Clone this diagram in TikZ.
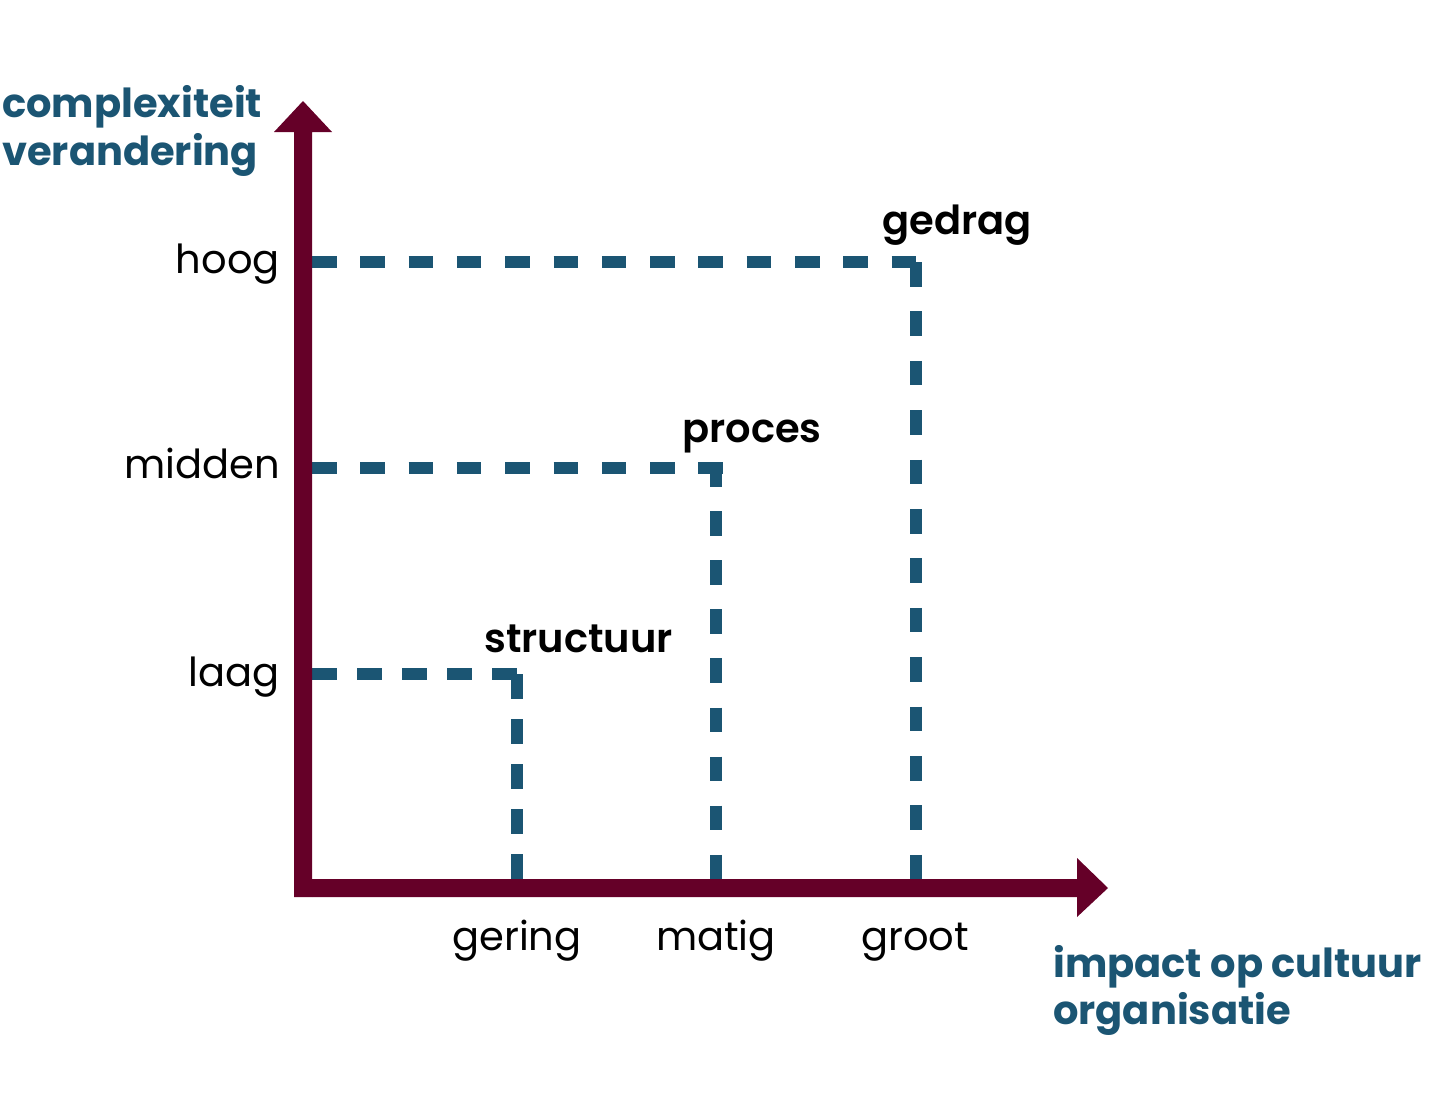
\documentclass[tikz,border=0pt]{standalone}
\usepackage{fontspec}
\setmainfont{Poppins}
\IfFontExistsTF{Poppins SemiBold}
  {\newfontfamily\catfont{Poppins SemiBold}}
  {\newcommand\catfont{\bfseries}}
\definecolor{axiscol}{HTML}{650028}
\definecolor{dashcol}{HTML}{1B5573}
\begin{document}
\begin{tikzpicture}[x=1pt,y=-1pt,
  lbl/.style={inner sep=0pt,font=\fontsize{40}{48}\selectfont,text=black},
  cat/.style={inner sep=0pt,font=\fontsize{40}{48}\selectfont\catfont,text=black},
  title/.style={inner sep=0pt,font=\fontsize{40}{48}\selectfont\bfseries,text=dashcol},
  guide/.style={draw=dashcol,line width=12pt,dash pattern=on 24.5pt off #1pt}]
\useasboundingbox (0,0) rectangle (1440,1100);
% guides
\coordinate (h0) at (312,262); \coordinate (h1) at (916,262);
\coordinate (hv) at (916,262); \coordinate (h2) at (916,879);
\coordinate (m0) at (312,468); \coordinate (m1) at (723,468);
\coordinate (mv) at (716,462); \coordinate (m2) at (716,879);
\coordinate (l0) at (312,674); \coordinate (l1) at (517,674);
\coordinate (lv) at (517,674); \coordinate (l2) at (517,879);
\draw[guide=23.8] (h0) -- (h1);
\draw[guide=24.9] (hv) -- (h2);
\draw[guide=23.8] (m0) -- (m1);
\draw[guide=24.6] (mv) -- (m2);
\draw[guide=20.6] (l0) -- (l1);
\draw[guide=20.6] (lv) -- (l2);
% axes
\fill[axiscol] (294,897) -- (294,132) -- (274,132) -- (303,101) -- (332,132) -- (312,132) -- (312,897) -- cycle;
\fill[axiscol] (312,879) -- (1077,879) -- (1077,858) -- (1108,888) -- (1077,917) -- (1077,897) -- (312,897) -- cycle;
% axis titles
\node[title,anchor=base west] (yt1) at (2,117) {complexiteit};
\node[title,anchor=base west] (yt2) at (2,165) {verandering};
\node[title,anchor=base west] (xt1) at (1053,977) {impact op cultuur};
\node[title,anchor=base west] (xt2) at (1053,1024) {organisatie};
% y labels
\node[lbl,anchor=base east] (hoog) at (280,273) {hoog};
\node[lbl,anchor=base east] (midden) at (280,478) {midden};
\node[lbl,anchor=base east] (laag) at (280,686) {laag};
% x labels
\node[lbl,anchor=base] (gering) at (517,950) {gering};
\node[lbl,anchor=base] (matig) at (716,950) {matig};
\node[lbl,anchor=base] (groot) at (915,950) {groot};
% categories
\node[cat,anchor=base west] (gedrag) at (882,234) {gedrag};
\node[cat,anchor=base west] (proces) at (682,442) {proces};
\node[cat,anchor=base west] (structuur) at (484,652) {structuur};
\end{tikzpicture}
\end{document}
